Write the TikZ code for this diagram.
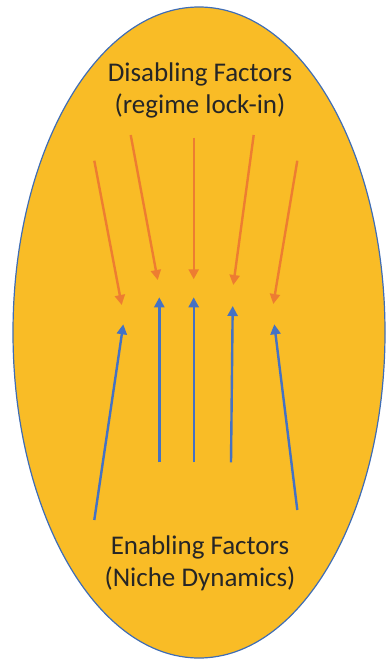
\documentclass[tikz,border=0pt]{standalone}
\usepackage{fontspec}
\setmainfont{Carlito}
\usetikzlibrary{arrows.meta}
\definecolor{ellfill}{HTML}{F9BC26}
\definecolor{ellline}{HTML}{3F6DB5}
\definecolor{arrorange}{HTML}{ED7D31}
\definecolor{arrblue}{HTML}{4472C4}
\definecolor{txt}{HTML}{262626}
\tikzset{
  disarrow/.style={draw=arrorange, line width=2.4pt, -{Triangle[length=10pt,width=10pt]}},
  enarrow/.style={draw=arrblue, line width=2.4pt, -{Triangle[length=10pt,width=10pt]}},
  label/.style={text=txt, font=\fontsize{27}{32}\selectfont, align=center, inner sep=0pt}
}
\begin{document}
\begin{tikzpicture}[x=1pt,y=-1pt]
\useasboundingbox (0,0) rectangle (386,660);
\draw[ellline, fill=ellfill, line width=1.2pt] (199,332.5) ellipse [x radius=186, y radius=325.5];
\node[label, anchor=base] (dis) at (200,113.5) {Disabling Factors\\(regime lock-in)};
\node[label, anchor=base] (en) at (200,586.5) {Enabling Factors\\(Niche Dynamics)};
% orange arrows
\coordinate (a1s) at (94.3,160.7); \coordinate (a1e) at (121.7,305);
\coordinate (a2s) at (130.7,135); \coordinate (a2e) at (157.7,280);
\coordinate (a3s) at (193.7,137.7); \coordinate (a3e) at (193.7,279.3);
\coordinate (a4s) at (253.7,135); \coordinate (a4e) at (233.3,285);
\coordinate (a5s) at (297.3,160.7); \coordinate (a5e) at (273.3,304);
\draw[disarrow] (a1s) -- (a1e);
\draw[disarrow] (a2s) -- (a2e);
\draw[disarrow] (a3s) -- (a3e);
\draw[disarrow] (a4s) -- (a4e);
\draw[disarrow] (a5s) -- (a5e);
% blue arrows
\coordinate (b1s) at (94.3,520); \coordinate (b1e) at (123.3,324.3);
\coordinate (b2s) at (159.3,462.3); \coordinate (b2e) at (159.3,297.3);
\coordinate (b3s) at (193.7,462.3); \coordinate (b3e) at (193.7,297.3);
\coordinate (b4s) at (231,462.3); \coordinate (b4e) at (232.7,306);
\coordinate (b5s) at (297.3,510); \coordinate (b5e) at (274.3,324.3);
\draw[enarrow] (b1s) -- (b1e);
\draw[enarrow] (b2s) -- (b2e);
\draw[enarrow] (b3s) -- (b3e);
\draw[enarrow] (b4s) -- (b4e);
\draw[enarrow] (b5s) -- (b5e);
\end{tikzpicture}
\end{document}
